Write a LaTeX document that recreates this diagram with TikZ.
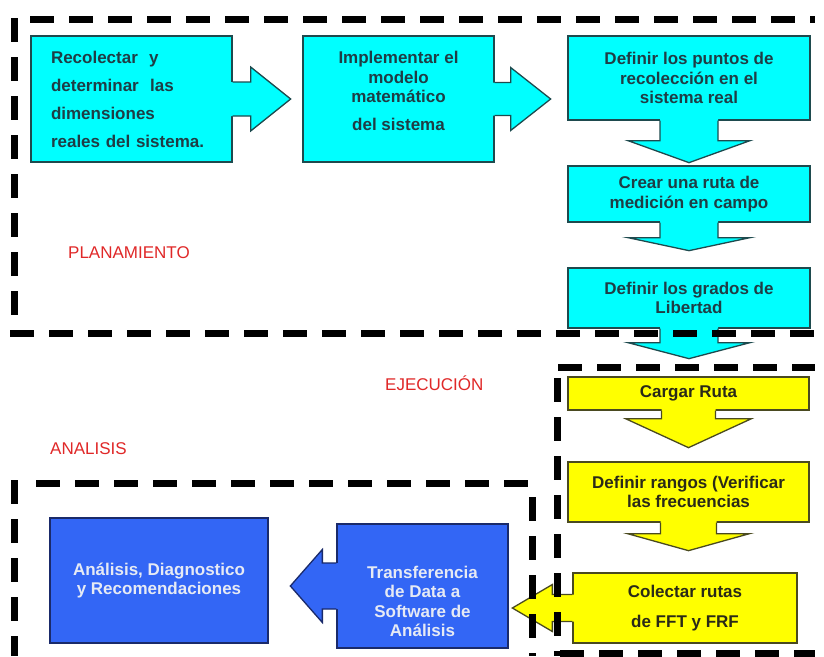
\documentclass[tikz,border=0pt]{standalone}
\usepackage{fontspec}
\setmainfont{Liberation Sans}
\usetikzlibrary{calc}
\definecolor{CyF}{HTML}{00FFFF}
\definecolor{CyB}{HTML}{1E4A4E}
\definecolor{CyT}{HTML}{1F3D45}
\definecolor{YeF}{HTML}{FFFF00}
\definecolor{YeB}{HTML}{4A4A20}
\definecolor{YeT}{HTML}{2A2A18}
\definecolor{BlF}{HTML}{3366F5}
\definecolor{BlB}{HTML}{1A2A6A}
\definecolor{BlT}{HTML}{E6EAF4}
\definecolor{RedL}{HTML}{E02828}
\newcommand\blockarr[7]{%
  \begin{scope}[shift={(#1)}, rotate=#2]
    \fill[#7fill] (-1.6,-#4) -- (#3,-#4) -- (#3,-#5) -- (#6,0) -- (#3,#5) -- (#3,#4) -- (-1.6,#4) -- cycle;
    \draw[#7line] (0,-#4) -- (#3,-#4) -- (#3,-#5) -- (#6,0) -- (#3,#5) -- (#3,#4) -- (0,#4);
  \end{scope}}
\begin{document}
\begin{tikzpicture}[x=1pt,y=-1pt,
  tbox/.style={rectangle, inner sep=0pt, align=center, line width=1.3pt,
    font=\bfseries\fontsize{17}{19.5}\selectfont},
  cybox/.style={tbox, fill=CyF, draw=CyB, text=CyT},
  yebox/.style={tbox, fill=YeF, draw=YeB, text=YeT},
  blbox/.style={tbox, fill=BlF, draw=BlB, text=BlT},
  txt/.style={inner sep=0pt, align=center, font=\bfseries\fontsize{17}{19.5}\selectfont},
  cyfill/.style={fill=CyF}, cyline/.style={draw=CyB, line width=1.3pt, line join=miter},
  yefill/.style={fill=YeF}, yeline/.style={draw=YeB, line width=1.3pt, line join=miter},
  blfill/.style={fill=BlF}, blline/.style={draw=BlB, line width=1.3pt, line join=miter},
  phase/.style={inner sep=0pt, anchor=west, text=RedL, text height=12.2pt, text depth=0pt,
    font=\fontsize{17}{20}\selectfont},
  dashline/.style={draw=black, line width=7pt, dash pattern=on 24pt off 15pt}]
\useasboundingbox[fill=white] (0,0) rectangle (824,656);

% planning boxes
\node[cybox, minimum width=201, minimum height=126, text width=161, align=left,
  font=\bfseries\fontsize{17}{28}\selectfont] (b1) at (131.5,99)
  {Recolectar\ \ y\\determinar\ \ las\\dimensiones\\reales del sistema.};
\node[cybox, minimum width=191, minimum height=126] (b2) at (398.5,99) {};
\node[txt, text=CyT] (b2t) at ($(b2.center)+(0,-8)$)
  {Implementar el\\modelo\\matemático\\[8pt]del sistema};
\node[cybox, minimum width=242, minimum height=84] (b3) at (689,78)
  {Definir los puntos de\\recolección en el\\sistema real};
\node[cybox, minimum width=242, minimum height=56] (b4) at (689,194)
  {Crear una ruta de\\medición en campo};
\node[cybox, minimum width=242, minimum height=60] (b5) at (689,298)
  {Definir los grados de\\Libertad};

% execution boxes
\node[yebox, minimum width=241, minimum height=33] (y1) at (688.5,393.5) {Cargar Ruta};
\node[yebox, minimum width=241, minimum height=60] (y2) at (688.5,492)
  {Definir rangos (Verificar\\las frecuencias};
\node[yebox, minimum width=224, minimum height=70,
  font=\bfseries\fontsize{17}{30}\selectfont] (y3) at (685,608)
  {Colectar rutas\\de FFT y FRF};

% analysis boxes
\node[blbox, minimum width=218, minimum height=125] (bl1) at (159,580.5)
  {Análisis, Diagnostico\\y Recomendaciones};
\node[blbox, minimum width=171, minimum height=124] (bl2) at (422.5,586) {};
\node[txt, text=BlT] (bl2t) at ($(bl2.center)+(0,15.5)$)
  {Transferencia\\de Data a\\Software de\\Análisis};

% block arrows
\blockarr{b1.east}{0}{18}{17}{32}{58}{cy}
\blockarr{b2.east}{0}{16}{16.5}{31.5}{56}{cy}
\blockarr{b3.south}{-90}{20}{29}{61}{42}{cy}
\blockarr{b4.south}{-90}{15}{29}{61}{28}{cy}
\blockarr{b5.south}{-90}{14}{29}{61}{30}{cy}
\blockarr{y1.south}{-90}{8}{27}{63}{37}{ye}
\blockarr{y2.south}{-90}{11}{28}{61}{28}{ye}
\blockarr{y3.west}{180}{20}{13.5}{23.5}{60}{ye}
\blockarr{bl2.west}{180}{14}{23}{36.5}{46}{bl}

% phase labels
\node[phase] (lp) at (68,252) {PLANAMIENTO};
\node[phase] (le) at (385,384) {EJECUCIÓN};
\node[phase] (la) at (50,448) {ANALISIS};

% dashed frames
\draw[dashline] (30,19) -- (815,19);
\draw[dashline] (14,18) -- (14,318);
\draw[dashline] (10,333) -- (815,333);
\draw[dashline] (558,367) -- (815,367);
\draw[dashline] (557,378) -- (557,656);
\draw[dashline] (560,653) -- (815,653);
\draw[dashline] (36,483) -- (528,483);
\draw[dashline] (14,480) -- (14,656);
\draw[dashline] (532,497) -- (532,656);
\end{tikzpicture}
\end{document}
